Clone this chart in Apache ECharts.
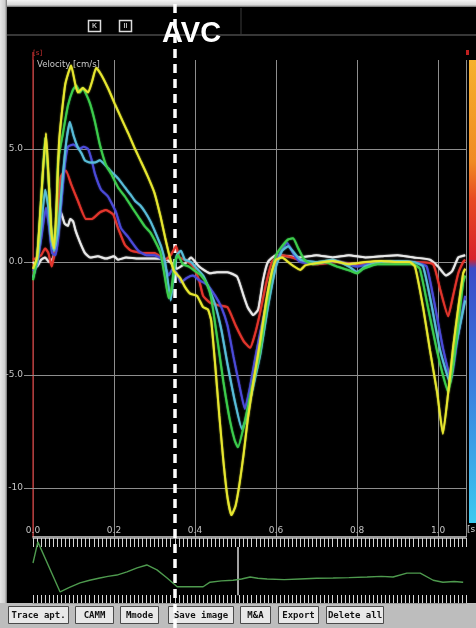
<!DOCTYPE html>
<html>
<head>
<meta charset="utf-8">
<script src="https://cdn.jsdelivr.net/npm/echarts@6/dist/echarts.min.js"></script>
<style>
  html, body { margin: 0; padding: 0; background: #000; }
  #chart { width: 476px; height: 628px; }
</style>
</head>
<body>
<div id="chart"></div>
<script>
// Tissue velocity traces, [time s, velocity cm/s]
const whiteTrace = [
  [0,0.0],[0.01,-0.2],[0.02,0.1],[0.03,0.2],[0.04,0.0],[0.05,0.2],[0.062,1.3],[0.069,2.2],[0.078,1.7],
  [0.086,1.6],[0.092,1.9],[0.099,1.8],[0.105,1.4],[0.111,1.1],[0.12,0.7],[0.128,0.4],[0.141,0.2],
  [0.16,0.25],[0.18,0.15],[0.2,0.25],[0.21,0.1],[0.23,0.2],[0.26,0.15],[0.3,0.15],[0.33,0.1],
  [0.345,-0.1],[0.355,-0.3],[0.365,-0.2],[0.38,0.0],[0.39,0.2],[0.41,-0.2],[0.437,-0.5],[0.454,-0.45],
  [0.48,-0.45],[0.504,-0.65],[0.52,-1.5],[0.53,-2.0],[0.544,-2.35],[0.556,-2.1],[0.568,-0.8],[0.58,0.0],
  [0.6,0.3],[0.63,0.25],[0.66,0.2],[0.7,0.3],[0.74,0.2],[0.78,0.3],[0.82,0.2],[0.86,0.25],[0.9,0.3],
  [0.94,0.2],[0.98,0.1],[1.0,-0.2],[1.02,-0.6],[1.035,-0.4],[1.05,0.2],[1.067,0.3]
];
const redTrace = [
  [0,0.1],[0.01,0.2],[0.02,0.3],[0.03,0.6],[0.038,0.4],[0.046,-0.2],[0.054,0.5],[0.062,2.5],[0.069,3.8],
  [0.081,4.05],[0.095,3.4],[0.111,2.7],[0.131,1.9],[0.145,1.9],[0.165,2.2],[0.18,2.3],[0.198,2.1],
  [0.21,1.5],[0.227,0.75],[0.242,0.5],[0.27,0.4],[0.3,0.4],[0.326,0.1],[0.34,0.3],[0.353,0.7],
  [0.362,0.2],[0.375,0.1],[0.395,-0.2],[0.41,-0.8],[0.42,-1.5],[0.437,-1.8],[0.455,-1.9],[0.48,-2.0],
  [0.5,-2.8],[0.52,-3.5],[0.536,-3.8],[0.548,-3.2],[0.56,-2.3],[0.575,-1.0],[0.59,0.0],[0.61,0.3],
  [0.64,0.2],[0.67,0.0],[0.7,-0.1],[0.75,0.0],[0.8,-0.1],[0.85,0.0],[0.9,0.0],[0.95,0.0],[0.988,-0.1],
  [1.005,-1.2],[1.025,-2.4],[1.037,-1.5],[1.05,-0.5],[1.062,0.0],[1.067,0.1]
];
const blueTrace = [
  [0,-0.4],[0.01,-0.1],[0.02,1.0],[0.032,2.4],[0.04,1.5],[0.047,0.4],[0.055,0.3],[0.062,1.0],[0.07,2.6],
  [0.078,4.2],[0.086,5.1],[0.1,5.2],[0.115,5.0],[0.125,5.1],[0.136,5.0],[0.145,4.5],[0.153,3.9],
  [0.168,3.2],[0.185,2.9],[0.205,2.2],[0.217,1.5],[0.235,1.1],[0.26,0.5],[0.28,0.3],[0.3,0.3],[0.32,0.1],
  [0.335,-0.6],[0.345,-0.3],[0.355,-0.5],[0.365,-0.9],[0.38,-0.7],[0.395,-0.6],[0.41,-0.8],[0.43,-1.0],
  [0.45,-1.5],[0.465,-2.0],[0.48,-2.8],[0.495,-4.2],[0.51,-5.5],[0.523,-6.5],[0.535,-5.6],[0.548,-4.3],
  [0.56,-3.2],[0.573,-2.1],[0.59,-0.6],[0.61,0.4],[0.627,0.85],[0.645,0.3],[0.66,0.0],[0.7,-0.05],
  [0.75,0.05],[0.8,-0.2],[0.85,0.0],[0.9,0.0],[0.95,-0.05],[0.972,-0.2],[0.993,-2.0],[1.012,-3.8],
  [1.032,-5.2],[1.047,-3.5],[1.062,-2.0],[1.067,-1.5]
];
const cyanTrace = [
  [0,-0.7],[0.01,0.0],[0.02,1.5],[0.03,3.2],[0.038,2.4],[0.045,1.0],[0.052,0.5],[0.062,1.4],[0.072,3.5],
  [0.082,5.3],[0.091,6.2],[0.1,5.6],[0.11,5.1],[0.12,4.8],[0.128,4.5],[0.14,4.4],[0.153,4.4],[0.165,4.5],
  [0.178,4.3],[0.193,4.0],[0.21,3.7],[0.227,3.3],[0.24,3.0],[0.252,2.7],[0.265,2.5],[0.277,2.2],
  [0.29,1.8],[0.3,1.4],[0.316,0.7],[0.326,0.0],[0.334,-1.0],[0.34,-1.7],[0.347,-0.6],[0.355,0.3],
  [0.365,0.5],[0.375,0.1],[0.39,0.0],[0.405,-0.3],[0.42,-0.6],[0.435,-1.2],[0.45,-1.9],[0.465,-3.0],
  [0.48,-4.5],[0.5,-6.3],[0.516,-7.4],[0.525,-7.0],[0.54,-5.8],[0.56,-4.2],[0.58,-2.0],[0.6,-0.2],
  [0.615,0.5],[0.63,0.7],[0.645,0.4],[0.66,0.1],[0.7,0.0],[0.74,0.1],[0.78,-0.2],[0.8,-0.45],[0.82,-0.2],
  [0.86,0.0],[0.9,0.05],[0.94,0.0],[0.963,-0.2],[0.985,-2.0],[1.005,-3.9],[1.03,-5.35],[1.042,-3.9],
  [1.06,-2.3],[1.067,-1.7]
];
const greenTrace = [
  [0,-0.8],[0.01,0.2],[0.02,2.6],[0.03,5.5],[0.038,3.8],[0.045,1.5],[0.052,0.8],[0.058,2.0],[0.062,4.5],
  [0.074,5.7],[0.086,6.9],[0.098,7.6],[0.107,7.8],[0.116,7.5],[0.123,7.7],[0.132,7.4],[0.141,7.0],
  [0.153,6.2],[0.165,5.2],[0.18,4.3],[0.193,3.9],[0.21,3.3],[0.227,2.9],[0.245,2.4],[0.26,2.0],
  [0.275,1.6],[0.29,1.3],[0.305,0.8],[0.315,0.4],[0.325,-0.6],[0.335,-1.6],[0.342,-1.2],[0.35,0.0],
  [0.358,0.3],[0.37,-0.1],[0.385,-0.2],[0.4,-0.4],[0.415,-0.6],[0.43,-1.0],[0.44,-1.6],[0.455,-3.4],
  [0.47,-5.3],[0.486,-7.0],[0.498,-7.9],[0.506,-8.2],[0.52,-7.3],[0.54,-5.6],[0.56,-4.0],[0.575,-2.2],
  [0.59,-0.5],[0.6,0.3],[0.615,0.7],[0.63,1.0],[0.642,1.05],[0.655,0.6],[0.67,0.1],[0.69,-0.1],
  [0.72,0.0],[0.75,-0.2],[0.785,-0.4],[0.8,-0.5],[0.815,-0.3],[0.85,-0.1],[0.9,-0.1],[0.94,-0.1],
  [0.955,-0.3],[0.975,-2.0],[0.997,-3.9],[1.012,-5.0],[1.025,-5.75],[1.037,-4.6],[1.05,-2.7],
  [1.062,-0.9],[1.067,-0.6]
];
const yellowTrace = [
  [0,-0.3],[0.01,0.2],[0.02,2.8],[0.032,5.7],[0.04,3.2],[0.046,1.2],[0.052,0.6],[0.058,2.5],[0.064,5.2],
  [0.07,6.4],[0.08,7.9],[0.094,8.7],[0.104,7.9],[0.111,7.5],[0.123,7.7],[0.136,7.5],[0.146,8.0],
  [0.156,8.6],[0.168,8.3],[0.185,7.7],[0.202,7.0],[0.217,6.4],[0.235,5.7],[0.252,5.0],[0.265,4.5],
  [0.283,3.8],[0.3,3.05],[0.315,2.0],[0.326,1.1],[0.338,0.2],[0.348,-0.4],[0.363,-0.7],[0.375,-1.1],
  [0.388,-1.4],[0.405,-1.5],[0.42,-2.0],[0.432,-2.1],[0.44,-2.6],[0.45,-4.6],[0.46,-6.8],[0.47,-8.8],
  [0.48,-10.4],[0.49,-11.2],[0.5,-10.8],[0.51,-9.8],[0.52,-8.5],[0.53,-7.0],[0.545,-5.2],[0.56,-3.6],
  [0.575,-1.8],[0.59,-0.4],[0.6,0.1],[0.615,0.2],[0.63,0.0],[0.645,-0.2],[0.66,-0.35],[0.672,-0.15],
  [0.7,-0.05],[0.74,0.05],[0.78,-0.1],[0.82,0.0],[0.86,0.05],[0.9,0.0],[0.93,0.0],[0.943,-0.2],
  [0.963,-2.0],[0.98,-3.9],[0.998,-5.8],[1.012,-7.6],[1.025,-5.8],[1.037,-3.8],[1.05,-2.0],
  [1.062,-0.5],[1.067,-0.3]
];

// ECG strip, [time s, amplitude a.u.]
const ecgTrace = [
  [0,6.15],[0.012,9.4],[0.067,1.7],[0.09,2.4],[0.116,3.1],[0.14,3.5],[0.165,3.85],[0.185,4.1],
  [0.207,4.3],[0.232,4.8],[0.257,5.4],[0.281,5.85],[0.306,5.1],[0.331,3.85],[0.356,2.5],[0.42,2.5],
  [0.437,3.2],[0.465,3.4],[0.494,3.5],[0.515,3.7],[0.536,4.0],[0.555,3.8],[0.578,3.7],[0.62,3.6],
  [0.659,3.7],[0.7,3.8],[0.741,3.85],[0.78,3.9],[0.825,4.0],[0.86,4.1],[0.889,4.0],[0.923,4.6],
  [0.956,4.6],[0.988,3.5],[1.012,3.2],[1.04,3.3],[1.062,3.2]
];

// Axis ticks and event times
const yTicks = [5, 0, -5, -10];
const yTickLabels = ['5.0', '0.0', '-5.0', '-10'];
const xTickStep = 0.2;
const avcTime = 0.353;
const ecgMarkerTime = 0.506;
const buttonLabels = ['Trace apt.', 'CAMM', 'Mmode', 'Save image', 'M&A', 'Export', 'Delete all'];

const xMax = 1.069;
const yMin = -12.17;
const yMax = 8.94;

// button boxes along the bottom toolbar [left, right]
const buttonBoxes = [[8, 68], [75, 113], [120, 158], [168, 233], [240, 270], [278, 318], [326, 383]];

const chart = echarts.init(document.getElementById('chart'), null, { renderer: 'canvas' });

function trace(name, data, color) {
  return {
    name, type: 'line', xAxisIndex: 1, yAxisIndex: 1, data,
    showSymbol: false, symbol: 'none', smooth: 0.15, silent: true, z: 5,
    lineStyle: { color, width: 2, shadowColor: color, shadowBlur: 1.5 }, itemStyle: { color }
  };
}

const gridLineColor = '#8e8e8e';
const labelFont = { color: '#c4c4c4', fontSize: 9, fontFamily: 'DejaVu Sans' };

const graphics = [
  // frame borders
  { type: 'rect', z: 0, shape: { x: 0, y: 0, width: 476, height: 7 },
    style: { fill: new echarts.graphic.LinearGradient(0, 0, 0, 1, [
      { offset: 0, color: '#f4f4f4' }, { offset: 0.7, color: '#d8d8d8' }, { offset: 1, color: '#6a6a6a' }]) } },
  { type: 'rect', z: 0, shape: { x: 0, y: 0, width: 7, height: 603 },
    style: { fill: new echarts.graphic.LinearGradient(0, 0, 1, 0, [
      { offset: 0, color: '#e6e6e6' }, { offset: 0.7, color: '#cfcfcf' }, { offset: 1, color: '#707070' }]) } },
  { type: 'line', z: 0, shape: { x1: 7, y1: 35, x2: 476, y2: 35 }, style: { stroke: '#4a4a4a', lineWidth: 1.5 } },
  { type: 'line', z: 0, shape: { x1: 241, y1: 8, x2: 241, y2: 35 }, style: { stroke: '#3a3a3a', lineWidth: 1 } },
  // toolbar icons
  { type: 'rect', z: 0, shape: { x: 88.5, y: 20.5, width: 12, height: 11 }, style: { fill: '#000', stroke: '#dcdcdc', lineWidth: 1.5 } },
  { type: 'text', z: 0, style: { x: 94.5, y: 26, text: 'K', fill: '#bbb', fontSize: 7, fontWeight: 'bold', align: 'center', verticalAlign: 'middle' } },
  { type: 'rect', z: 0, shape: { x: 119.5, y: 20.5, width: 12, height: 11 }, style: { fill: '#000', stroke: '#dcdcdc', lineWidth: 1.5 } },
  { type: 'text', z: 0, style: { x: 125.5, y: 26, text: 'II', fill: '#bbb', fontSize: 7, fontWeight: 'bold', align: 'center', verticalAlign: 'middle' } },
  // event label
  { type: 'text', z: 20, style: { x: 162, y: 48, text: 'AVC', fill: '#ffffff', fontSize: 29, fontWeight: 'bold',
      fontFamily: 'Liberation Sans, Arial, sans-serif', verticalAlign: 'bottom' } },
  // axis captions
  { type: 'text', z: 6, style: { x: 33, y: 50, text: '[s]', fill: '#c83030', fontSize: 7, fontFamily: 'DejaVu Sans' } },
  { type: 'text', z: 6, style: { x: 37, y: 60, text: 'Velocity [cm/s]', fill: '#c8c8c8', fontSize: 8.5, fontFamily: 'DejaVu Sans' } },
  { type: 'text', z: 6, style: { x: 467, y: 525, text: '[s]', fill: '#d8d8d8', fontSize: 9, fontFamily: 'DejaVu Sans' } },
  // red axis stub above the plot
  { type: 'line', z: 1, shape: { x1: 33, y1: 52, x2: 33, y2: 60 }, style: { stroke: '#a82828', lineWidth: 1.5 } },
  // colour scale
  { type: 'rect', z: 1, shape: { x: 466, y: 50, width: 3, height: 5 }, style: { fill: '#c02020' } },
  { type: 'rect', z: 1, shape: { x: 469, y: 60, width: 7, height: 463 },
    style: { fill: new echarts.graphic.LinearGradient(0, 0, 0, 1, [
      { offset: 0, color: '#f6b12c' }, { offset: 0.22, color: '#f08a24' }, { offset: 0.3, color: '#e84a22' },
      { offset: 0.43, color: '#d8202a' }, { offset: 0.45, color: '#3a4ac8' }, { offset: 0.7, color: '#3a7ede' },
      { offset: 1, color: '#3ccaf0' }]) } },
  // bottom toolbar
  { type: 'rect', z: 0, shape: { x: 0, y: 603, width: 476, height: 25 }, style: { fill: '#bdbdbd' } }
];
buttonBoxes.forEach((b, i) => {
  graphics.push({ type: 'rect', z: 1, shape: { x: b[0] + 0.5, y: 606.5, width: b[1] - b[0], height: 17 },
    style: { fill: '#e8e8e8', stroke: '#4a4a4a', lineWidth: 1 } });
  graphics.push({ type: 'text', z: 2, style: { x: (b[0] + b[1]) / 2 + 0.5, y: 615.5, text: buttonLabels[i],
    fill: '#111', fontSize: 9, fontWeight: 'bold', fontFamily: 'DejaVu Sans Mono',
    align: 'center', verticalAlign: 'middle' } });
});

const option = {
  animation: false,
  backgroundColor: '#000',
  grid: [
    { left: 24, right: 10, top: 60, bottom: 91 },   // horizontal reference lines
    { left: 33, right: 10, top: 60, bottom: 91 },   // velocity plot
    { left: 33, right: 10, top: 0, bottom: 0 },     // event marker overlay
    { left: 33, right: 10, top: 538, bottom: 25 }   // ECG strip
  ],
  xAxis: [
    { gridIndex: 0, type: 'value', min: 0, max: 1, show: false },
    { gridIndex: 1, type: 'value', min: 0, max: xMax, interval: xTickStep,
      axisLine: { show: true, onZero: false, lineStyle: { color: '#d0d0d0', width: 1.5 } },
      axisTick: { show: false },
      axisLabel: { inside: true, margin: 2, showMaxLabel: false, ...labelFont,
        formatter: v => v.toFixed(1) },
      splitLine: { show: true, lineStyle: { color: gridLineColor, width: 1 } } },
    { gridIndex: 2, type: 'value', min: 0, max: xMax, show: false },
    { gridIndex: 3, type: 'value', min: 0, max: xMax, interval: 0.01, position: 'top',
      axisLine: { show: true, onZero: false, lineStyle: { color: '#9a9a9a' } },
      axisTick: { show: true, inside: true, length: 9, lineStyle: { color: '#d4d4d4', width: 1 } },
      axisLabel: { show: false }, splitLine: { show: false } },
    { gridIndex: 3, type: 'value', min: 0, max: xMax, interval: 0.01, position: 'bottom',
      axisLine: { show: true, onZero: false, lineStyle: { color: '#9a9a9a' } },
      axisTick: { show: true, inside: true, length: 8, lineStyle: { color: '#d4d4d4', width: 1 } },
      axisLabel: { show: false }, splitLine: { show: false } }
  ],
  yAxis: [
    { gridIndex: 0, type: 'value', min: yMin, max: yMax, show: false },
    { gridIndex: 1, type: 'value', min: yMin, max: yMax,
      axisLine: { show: true, onZero: false, lineStyle: { color: '#a82828', width: 1.5 } },
      axisTick: { show: false }, axisLabel: { show: false }, splitLine: { show: false } },
    { gridIndex: 2, type: 'value', min: 0, max: 1, show: false },
    { gridIndex: 3, type: 'value', min: 0, max: 10, show: false }
  ],
  graphic: graphics,
  series: [
    {
      type: 'line', xAxisIndex: 0, yAxisIndex: 0, data: [], silent: true, z: 1,
      markLine: {
        silent: true, symbol: 'none', animation: false,
        lineStyle: { color: gridLineColor, width: 1, type: 'solid' },
        label: { show: true, position: 'start', distance: 1, ...labelFont,
          formatter: p => yTickLabels[yTicks.indexOf(p.value)] },
        data: yTicks.map(v => ({ yAxis: v }))
      }
    },
    trace('white', whiteTrace, '#e8e8e8'),
    trace('red', redTrace, '#e2352c'),
    trace('blue', blueTrace, '#4b4ad8'),
    trace('cyan', cyanTrace, '#58bcd8'),
    trace('green', greenTrace, '#3ccc4c'),
    trace('yellow', yellowTrace, '#e6e630'),
    {
      type: 'line', xAxisIndex: 3, yAxisIndex: 3, data: ecgTrace, showSymbol: false, symbol: 'none',
      silent: true, z: 5, lineStyle: { color: '#4e9a4e', width: 1.4 },
      markLine: {
        silent: true, symbol: 'none', animation: false, label: { show: false },
        lineStyle: { color: '#d8d8d8', width: 1.5, type: 'solid' },
        data: [[{ coord: [ecgMarkerTime, 1.2] }, { coord: [ecgMarkerTime, 8.6] }]]
      }
    },
    {
      type: 'line', xAxisIndex: 2, yAxisIndex: 2, data: [], silent: true, z: 10,
      markLine: {
        silent: true, symbol: 'none', animation: false, label: { show: false },
        lineStyle: { color: '#ffffff', width: 3.5, type: [9, 6] },
        data: [{ xAxis: avcTime }]
      }
    }
  ]
};

chart.setOption(option);
</script>
</body>
</html>
